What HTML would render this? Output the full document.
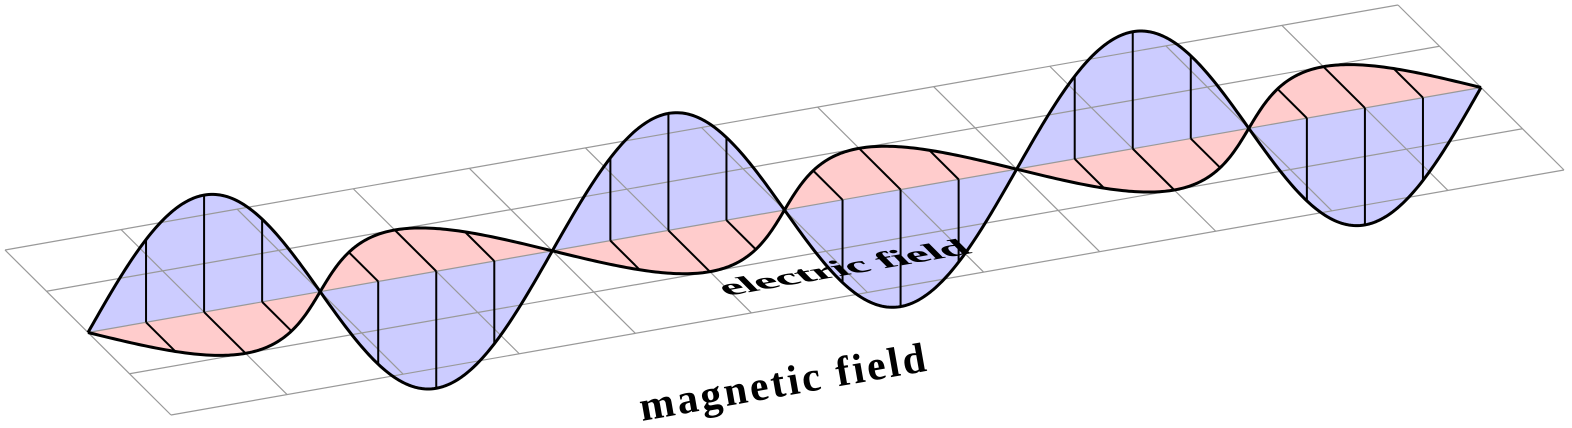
<!DOCTYPE html>
<html><head><meta charset="utf-8"><style>
html,body{margin:0;padding:0;background:#fff;width:1572px;height:428px;overflow:hidden}
svg{display:block}
</style></head><body>
<svg id="chart" width="1572" height="428" viewBox="0 0 1572 428" xmlns="http://www.w3.org/2000/svg">
<g id="fills"></g><g id="grid"></g><g id="hatch"></g><g id="curves"></g>
<text transform="matrix(0.985,-0.173,0.42,0.42,727,296)" font-family="Liberation Serif, serif" font-weight="bold" font-size="50" textLength="250" fill="#000">electric field</text>
<text transform="translate(642,421) rotate(-10)" font-family="Liberation Serif, serif" font-weight="bold" font-size="42" textLength="290" fill="#000">magnetic field</text>
</svg>
<script>
// data
const gridCols = 12;
const gridRows = 4;
const halfCycles = 6;
const electricAmplitude = [117]; // px, vertical
const magneticAmplitude = [1];   // in grid rows, depth
const hatchFractions = [0.25, 0.5, 0.75];

const NS = 'http://www.w3.org/2000/svg';
const origin = [5, 250], along = [1393, -245], depth = [41.5, 41.25];
function P(u, v) { return [origin[0] + along[0]*u + depth[0]*v, origin[1] + along[1]*u + depth[1]*v]; }
const axisV = gridRows/2;
function axisPt(t){ return P(t, axisV); }
function ePt(t){ const a=axisPt(t); const s=Math.sin(Math.PI*halfCycles*t); return [a[0], a[1]-electricAmplitude[0]*s]; }
function bPt(t){ const s=Math.sin(Math.PI*halfCycles*t); return P(t, axisV+magneticAmplitude[0]*s); }
function mk(tag, attrs, parent){ const e=document.createElementNS(NS,tag); for(const k in attrs) e.setAttribute(k,attrs[k]); document.getElementById(parent).appendChild(e); return e; }
function line(a,b,stroke,w,parent,name){ const e=mk('line',{x1:a[0],y1:a[1],x2:b[0],y2:b[1],stroke:stroke,'stroke-width':w},parent);
  
  
  return e; }

for (let h=0; h<halfCycles; h++){
  for (const [fn, col, nm] of [[bPt,'#ffcccc','magnetic-lobe'],[ePt,'#ccccff','electric-lobe']]){
    let pts=[];
    for (let i=0;i<=60;i++){ const t=(h+i/60)/halfCycles; pts.push(fn(t)); }
    pts.push(axisPt(h/halfCycles));
    const e=mk('polygon',{points:pts.map(p=>p.join(',')).join(' '),fill:col,stroke:'none'},'fills');
    
    
  }
}
for (let r=0;r<=gridRows;r++) line(P(0,r),P(1,r),'#999',1.2,'grid','grid-line-long');
for (let c=0;c<=gridCols;c++) line(P(c/gridCols,0),P(c/gridCols,gridRows),'#999',1.2,'grid','grid-line-cross');
for (let h=0; h<halfCycles; h++){
  for (const f of hatchFractions){
    const t=(h+f)/halfCycles;
    line(axisPt(t),ePt(t),'#000',2,'hatch','electric-hatch');
    line(axisPt(t),bPt(t),'#000',2,'hatch','magnetic-hatch');
  }
}
for (const [fn,nm] of [[bPt,'magnetic-field-curve'],[ePt,'electric-field-curve']]){
  let d='';
  for (let i=0;i<=600;i++){ const p=fn(i/600); d+=(i?'L':'M')+p[0].toFixed(2)+','+p[1].toFixed(2); }
  const e=mk('path',{d:d,fill:'none',stroke:'#000','stroke-width':3,'stroke-linejoin':'round'},'curves');
  
  
}
</script>
</body></html>
